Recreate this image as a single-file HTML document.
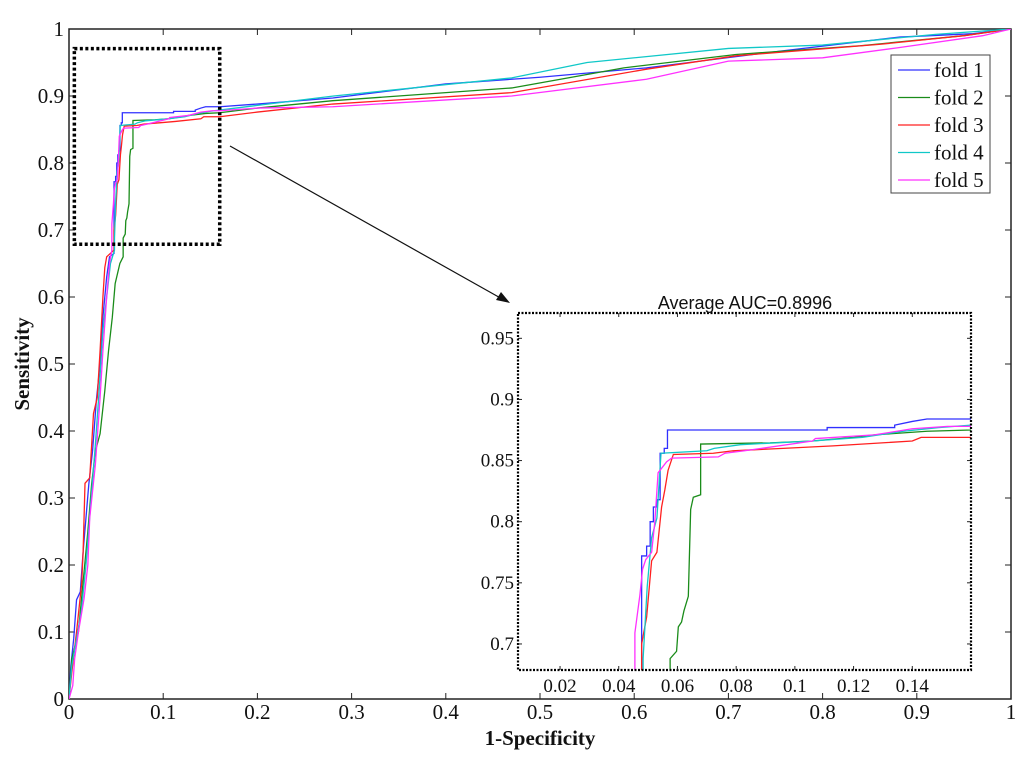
<!DOCTYPE html>
<html><head><meta charset="utf-8"><style>
html,body{margin:0;padding:0;background:#fff;width:1024px;height:759px;overflow:hidden;}
svg{display:block;}
</style></head><body>
<svg id="chart" width="1024" height="759" xmlns="http://www.w3.org/2000/svg"></svg>
<script>
// ---- data ----
const foldNames = ["fold 1","fold 2","fold 3","fold 4","fold 5"];
const xTicks = [0,0.1,0.2,0.3,0.4,0.5,0.6,0.7,0.8,0.9,1];
const xTickLabels = ["0","0.1","0.2","0.3","0.4","0.5","0.6","0.7","0.8","0.9","1"];
const yTicks = [0,0.1,0.2,0.3,0.4,0.5,0.6,0.7,0.8,0.9,1];
const yTickLabels = ["0","0.1","0.2","0.3","0.4","0.5","0.6","0.7","0.8","0.9","1"];
const insetXTicks = [0.02,0.04,0.06,0.08,0.1,0.12,0.14];
const insetXTickLabels = ["0.02","0.04","0.06","0.08","0.1","0.12","0.14"];
const insetYTicks = [0.7,0.75,0.8,0.85,0.9,0.95];
const insetYTickLabels = ["0.7","0.75","0.8","0.85","0.9","0.95"];
const aucText = "Average AUC=0.8996";

const fold1Fpr = [0,0.002,0.005,0.008,0.012,0.015,0.021,0.025,0.029,0.033,0.036,0.040,0.043,0.0478,0.0478,0.0495,0.0495,0.0507,0.0507,0.0518,0.0518,0.053,0.053,0.0541,0.0541,0.0555,0.0555,0.0566,0.0566,0.111,0.111,0.134,0.134,0.14,0.145,0.16,0.2,0.28,0.40,0.5,0.613,0.755,0.882,0.96,1];
const fold1Tpr = [0,0.05,0.09,0.148,0.16,0.22,0.32,0.37,0.445,0.5,0.57,0.63,0.66,0.665,0.772,0.772,0.78,0.78,0.80,0.80,0.812,0.812,0.818,0.818,0.856,0.856,0.86,0.86,0.875,0.875,0.877,0.877,0.879,0.882,0.884,0.884,0.888,0.897,0.918,0.928,0.942,0.967,0.988,0.993,1];
const fold2Fpr = [0,0.003,0.01,0.014,0.02,0.024,0.028,0.033,0.038,0.042,0.046,0.049,0.054,0.0575,0.0575,0.0597,0.0603,0.0614,0.0622,0.0637,0.0645,0.0654,0.0679,0.0679,0.0915,0.106,0.12,0.127,0.145,0.16,0.2,0.28,0.47,0.589,0.708,0.84,0.95,1];
const fold2Tpr = [0,0.06,0.1,0.16,0.25,0.32,0.37,0.396,0.46,0.52,0.57,0.62,0.65,0.66,0.688,0.694,0.714,0.718,0.727,0.739,0.81,0.82,0.822,0.8635,0.8645,0.866,0.869,0.871,0.874,0.875,0.882,0.893,0.912,0.942,0.962,0.975,0.99,1];
const fold3Fpr = [0,0.003,0.008,0.0135,0.015,0.017,0.022,0.026,0.03,0.033,0.036,0.038,0.040,0.0478,0.0478,0.0495,0.0512,0.053,0.0546,0.0557,0.0568,0.0586,0.0722,0.079,0.096,0.113,0.14,0.143,0.16,0.2,0.28,0.47,0.613,0.708,0.86,0.95,1];
const fold3Tpr = [0,0.04,0.1,0.173,0.22,0.322,0.33,0.426,0.45,0.52,0.6,0.644,0.66,0.67,0.70,0.722,0.768,0.775,0.812,0.826,0.842,0.855,0.856,0.858,0.86,0.862,0.866,0.869,0.869,0.876,0.888,0.905,0.94,0.96,0.977,0.99,1];
const fold4Fpr = [0,0.003,0.008,0.013,0.018,0.023,0.028,0.032,0.036,0.040,0.044,0.0483,0.0483,0.0497,0.0512,0.053,0.0544,0.07,0.0725,0.0814,0.106,0.123,0.137,0.149,0.16,0.2,0.281,0.47,0.55,0.70,0.80,0.92,1];
const fold4Tpr = [0,0.05,0.09,0.13,0.2,0.29,0.38,0.46,0.55,0.6,0.65,0.67,0.688,0.747,0.787,0.803,0.856,0.858,0.86,0.863,0.866,0.869,0.874,0.877,0.879,0.886,0.90,0.927,0.95,0.971,0.976,0.992,1];
const fold5Fpr = [0,0.004,0.006,0.01,0.016,0.02,0.022,0.028,0.033,0.036,0.04,0.043,0.0455,0.0455,0.0472,0.0481,0.0492,0.0512,0.0523,0.0534,0.0563,0.058,0.0739,0.0762,0.0829,0.106,0.107,0.127,0.14,0.152,0.16,0.2,0.28,0.47,0.613,0.70,0.80,0.88,0.97,1];
const fold5Tpr = [0,0.02,0.06,0.1,0.15,0.2,0.27,0.35,0.45,0.52,0.6,0.65,0.67,0.709,0.74,0.761,0.769,0.775,0.80,0.84,0.849,0.852,0.853,0.856,0.858,0.866,0.868,0.871,0.876,0.878,0.878,0.882,0.884,0.90,0.925,0.952,0.957,0.972,0.99,1];

const foldFpr = [fold1Fpr,fold2Fpr,fold3Fpr,fold4Fpr,fold5Fpr];
const foldTpr = [fold1Tpr,fold2Tpr,fold3Tpr,fold4Tpr,fold5Tpr];
const foldColors = ["#3030ff","#1a8c1a","#ff2020","#10c8c8","#ff30ff"];

// ---- drawing ----
const NS = "http://www.w3.org/2000/svg";
const svg = document.getElementById("chart");
function el(tag, attrs, parent){
  const e = document.createElementNS(NS, tag);
  for (const k in attrs) e.setAttribute(k, attrs[k]);
  (parent||svg).appendChild(e);
  return e;
}
const L=69,R=1011,T=29,B=699;
const sx = v => L + v*(R-L);
const sy = v => B - v*(B-T);
const IL=518,IR=971,IT=313,IB=670;
const ix0=0.00568, ix1=0.160, iy0=0.6787, iy1=0.9707;
const isx = v => IL + (v-ix0)/(ix1-ix0)*(IR-IL);
const isy = v => IB - (v-iy0)/(iy1-iy0)*(IB-IT);

const defs = el("defs",{});
const cp = el("clipPath",{id:"insetClip"},defs);
el("rect",{x:IL,y:IT,width:IR-IL,height:IB-IT},cp);
const cpm = el("clipPath",{id:"mainClip"},defs);
el("rect",{x:L,y:T,width:R-L,height:B-T},cpm);

const frame = el("rect",{x:L,y:T,width:R-L,height:B-T,fill:"none",stroke:"#222","stroke-width":1.5});



xTicks.forEach((t,i)=>{
  const x=sx(t);
  el("line",{x1:x,y1:B,x2:x,y2:B-6,stroke:"#222"});
  el("line",{x1:x,y1:T,x2:x,y2:T+6,stroke:"#222"});
  const tx = el("text",{x:x,y:719,"text-anchor":"middle","font-family":"Liberation Serif, serif","font-size":"21",fill:"#111"});
  tx.textContent = xTickLabels[i];
  
  
});
yTicks.forEach((t,i)=>{
  const y=sy(t);
  el("line",{x1:L,y1:y,x2:L+6,y2:y,stroke:"#222"});
  el("line",{x1:R,y1:y,x2:R-6,y2:y,stroke:"#222"});
  const tx = el("text",{x:L-5,y:y+7,"text-anchor":"end","font-family":"Liberation Serif, serif","font-size":"21",fill:"#111"});
  tx.textContent = yTickLabels[i];
  
  
});
const xt = el("text",{x:540,y:745,"text-anchor":"middle","font-family":"Liberation Serif, serif","font-size":"21","font-weight":"bold",fill:"#111"});
xt.textContent="1-Specificity";


const yt = el("text",{x:0,y:0,"text-anchor":"middle","font-family":"Liberation Serif, serif","font-size":"21","font-weight":"bold",fill:"#111",transform:"translate(29,364) rotate(-90)"});
yt.textContent="Sensitivity";



function pathFor(fx, fy, X, Y){
  return fx.map((v,i)=>(i?"L":"M")+X(v).toFixed(2)+","+Y(fy[i]).toFixed(2)).join(" ");
}
const mainG = el("g",{"clip-path":"url(#mainClip)"});
foldFpr.forEach((fx,k)=>{
  const p = el("path",{d:pathFor(fx,foldTpr[k],sx,sy),fill:"none",stroke:foldColors[k],"stroke-width":1.3},mainG);
  
  
});

const zb = el("rect",{x:sx(ix0),y:sy(iy1),width:sx(ix1)-sx(ix0),height:sy(iy0)-sy(iy1),fill:"none",stroke:"#000","stroke-width":3.5,"stroke-dasharray":"3,2.5"});


const ar = el("line",{x1:230,y1:146,x2:504,y2:300,stroke:"#111","stroke-width":1.2});


el("path",{d:"M510,303 L496,300 L501,292 Z",fill:"#111"});

const lg = el("g",{});


el("rect",{x:891,y:55,width:99,height:138,fill:"#fff",stroke:"#444","stroke-width":1},lg);
foldNames.forEach((n,k)=>{
  const y = 70 + k*27.5;
  const ln = el("line",{x1:898,y1:y,x2:930,y2:y,stroke:foldColors[k],"stroke-width":1.3},lg);
  
  
  const tx = el("text",{x:934,y:y+7,"font-family":"Liberation Serif, serif","font-size":"21",fill:"#111"},lg);
  tx.textContent = n;
  
  
});

const ig = el("g",{});


el("rect",{x:IL,y:IT,width:IR-IL,height:IB-IT,fill:"#fff",stroke:"none"},ig);
const icg = el("g",{"clip-path":"url(#insetClip)"},ig);
foldFpr.forEach((fx,k)=>{
  const p = el("path",{d:pathFor(fx,foldTpr[k],isx,isy),fill:"none",stroke:foldColors[k],"stroke-width":1.3},icg);
  
  
});
el("rect",{x:IL,y:IT,width:IR-IL,height:IB-IT,fill:"none",stroke:"#000","stroke-width":2.2,"stroke-dasharray":"2,1.5"},ig);
insetXTicks.forEach((t,i)=>{
  const x=isx(t);
  el("line",{x1:x,y1:IB,x2:x,y2:IB-4,stroke:"#222"},ig);
  el("line",{x1:x,y1:IT,x2:x,y2:IT+4,stroke:"#222"},ig);
  const tx = el("text",{x:x,y:692,"text-anchor":"middle","font-family":"Liberation Serif, serif","font-size":"19",fill:"#111"},ig);
  tx.textContent = insetXTickLabels[i];
  
  
});
insetYTicks.forEach((t,i)=>{
  const y=isy(t);
  el("line",{x1:IL,y1:y,x2:IL+4,y2:y,stroke:"#222"},ig);
  el("line",{x1:IR,y1:y,x2:IR-4,y2:y,stroke:"#222"},ig);
  const tx = el("text",{x:IL-4,y:y+6,"text-anchor":"end","font-family":"Liberation Serif, serif","font-size":"19",fill:"#111"},ig);
  tx.textContent = insetYTickLabels[i];
  
  
});
const it = el("text",{x:745,y:309,"text-anchor":"middle","font-family":"Liberation Sans, sans-serif","font-size":"18",fill:"#111"},ig);
it.textContent = aucText;


</script>
</body></html>
